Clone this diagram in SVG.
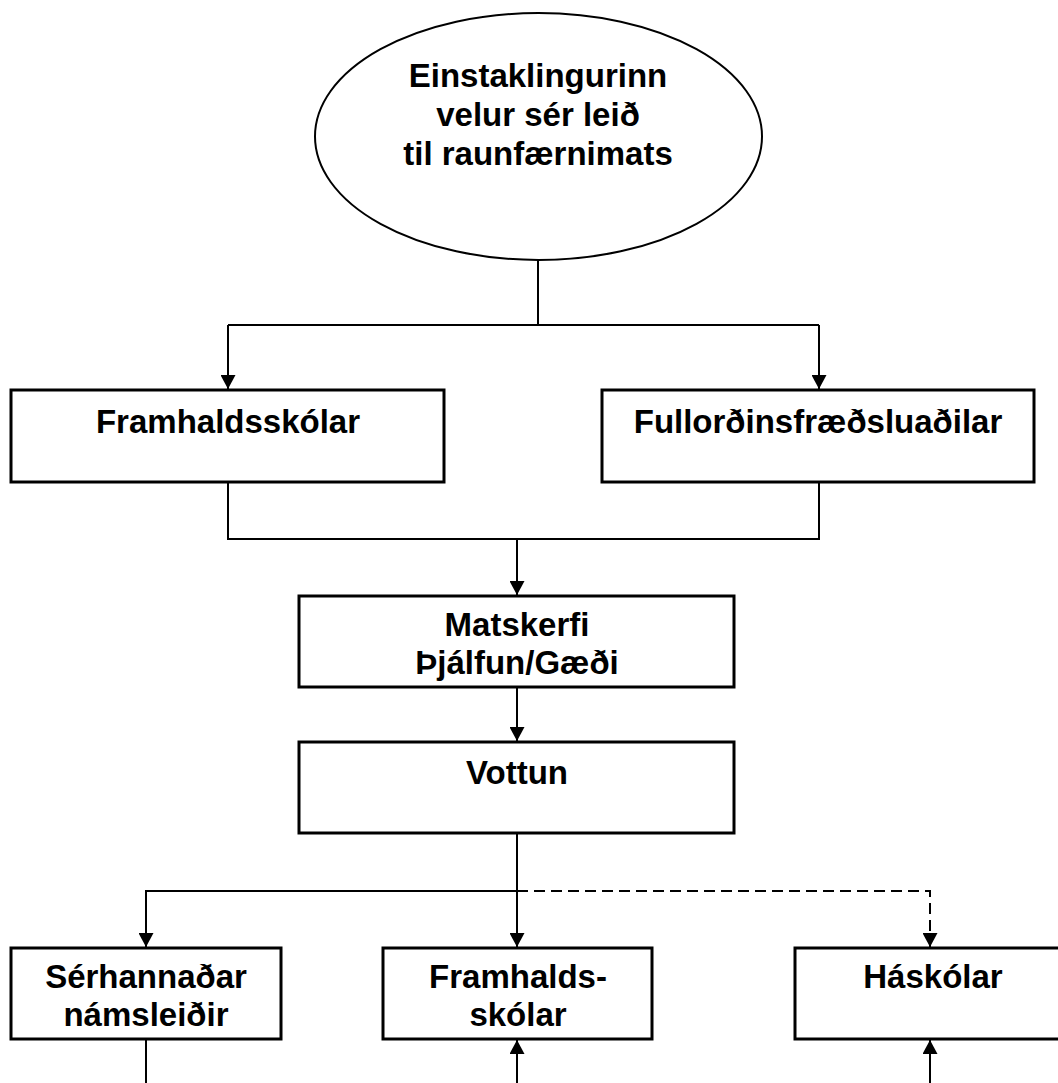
<svg xmlns="http://www.w3.org/2000/svg" width="1058" height="1083" viewBox="0 0 1058 1083">
<style>
  .box { fill: #fff; stroke: #000; stroke-width: 3; }
  .line { fill: none; stroke: #000; stroke-width: 2; }
  .dash { fill: none; stroke: #000; stroke-width: 2; stroke-dasharray: 11 6; }
  .t { font-family: "Liberation Sans", Arial, sans-serif; font-weight: bold; font-size: 33px; fill: #000; text-anchor: middle; }
</style>
<defs>
  <marker id="arr" viewBox="0 0 14 15" refX="14" refY="7.5" markerWidth="14" markerHeight="15" markerUnits="userSpaceOnUse" orient="auto">
    <path d="M0,0 L14,7.5 L0,15 Z" fill="#000"/>
  </marker>
</defs>
<rect width="1058" height="1083" fill="#fff"/>
<g id="connectors">
  <path class="line" d="M538,260 V325"/>
  <path class="line" d="M228,325 H819"/>
  <path class="line" d="M228,325 V389" marker-end="url(#arr)"/>
  <path class="line" d="M819,325 V389" marker-end="url(#arr)"/>
  <path class="line" d="M228,482 V539 H819 V482"/>
  <path class="line" d="M517,539 V595" marker-end="url(#arr)"/>
  <path class="line" d="M517,687 V741" marker-end="url(#arr)"/>
  <path class="line" d="M517,833 V947" marker-end="url(#arr)"/>
  <path class="line" d="M517,891 H146 V947" marker-end="url(#arr)"/>
  <path class="dash" d="M517,891 H930 V947" marker-end="url(#arr)"/>
  <path class="line" d="M146,1039 V1083"/>
  <path class="line" d="M517,1083 V1040" marker-end="url(#arr)"/>
  <path class="line" d="M930,1083 V1040" marker-end="url(#arr)"/>
</g>
<g id="start">
  <ellipse cx="538.5" cy="136.5" rx="223.5" ry="123.5" fill="#fff" stroke="#000" stroke-width="2"/>
  <text class="t" x="538" y="87">Einstaklingurinn</text>
  <text class="t" x="538" y="126">velur sér leið</text>
  <text class="t" x="538" y="165">til raunfærnimats</text>
</g>
<g id="framhaldsskolar1">
  <rect class="box" x="11" y="390" width="433" height="92"/>
  <text class="t" x="228" y="433">Framhaldsskólar</text>
</g>
<g id="fullordinsfraedsluadilar">
  <rect class="box" x="602" y="390" width="432" height="92"/>
  <text class="t" x="818" y="433">Fullorðinsfræðsluaðilar</text>
</g>
<g id="matskerfi">
  <rect class="box" x="299" y="596" width="435" height="91"/>
  <text class="t" x="517" y="636">Matskerfi</text>
  <text class="t" x="517" y="674">Þjálfun/Gæði</text>
</g>
<g id="vottun">
  <rect class="box" x="299" y="742" width="435" height="91"/>
  <text class="t" x="517" y="784">Vottun</text>
</g>
<g id="serhannadar">
  <rect class="box" x="11" y="948" width="270" height="91"/>
  <text class="t" x="146" y="988">Sérhannaðar</text>
  <text class="t" x="146" y="1026">námsleiðir</text>
</g>
<g id="framhaldsskolar2">
  <rect class="box" x="383" y="948" width="269" height="91"/>
  <text class="t" x="518" y="988">Framhalds-</text>
  <text class="t" x="518" y="1026">skólar</text>
</g>
<g id="haskolar">
  <rect class="box" x="795" y="948" width="270" height="91"/>
  <text class="t" x="933" y="988">Háskólar</text>
</g>
</svg>
